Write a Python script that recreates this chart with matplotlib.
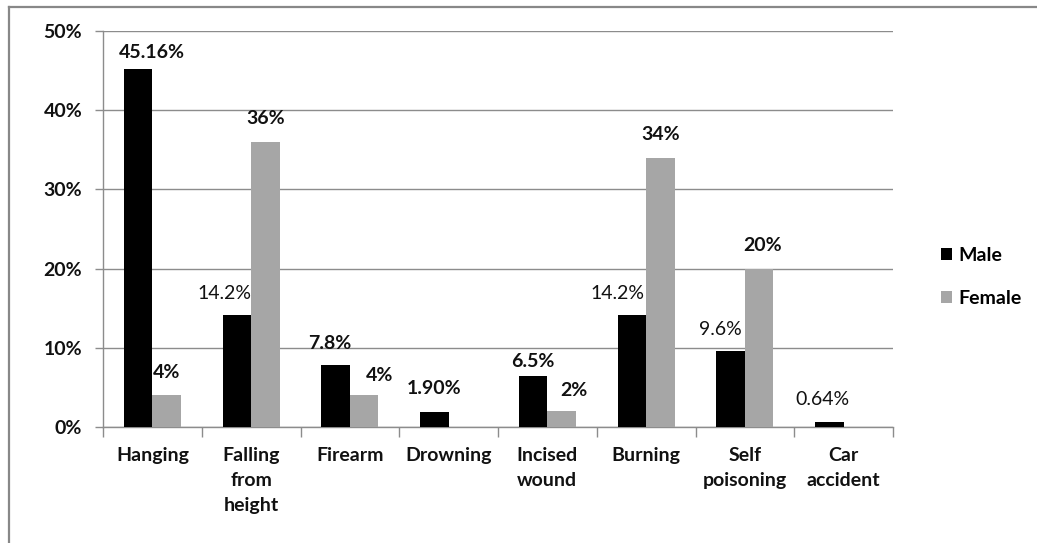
import matplotlib
matplotlib.use("Agg")
import matplotlib.pyplot as plt
from matplotlib.lines import Line2D
from matplotlib.patches import Patch
import numpy as np

# Data
categories = ["Hanging", "Falling\nfrom\nheight", "Firearm", "Drowning",
              "Incised\nwound", "Burning", "Self\npoisoning", "Car\naccident"]
male = [45.16, 14.2, 7.8, 1.90, 6.5, 14.2, 9.6, 0.64]
female = [4, 36, 4, 0, 2, 34, 20, 0]
male_labels = ["45.16%", "14.2%", "7.8%", "1.90%", "6.5%", "14.2%", "9.6%", "0.64%"]
female_labels = ["4%", "36%", "4%", "", "2%", "34%", "20%", ""]
y_ticks = [0, 10, 20, 30, 40, 50]
series_names = ["Male", "Female"]

# Label placement (pixel offsets from the top centre of each bar) and weights
male_offsets = [(14, 17), (-12, 21), (-6, 22), (0, 23), (0, 14), (-14, 21), (-10, 21), (-7, 22)]
female_offsets = [(0, 23), (0, 23), (15, 20), (0, 0), (12, 21), (0, 23), (3, 23), (0, 0)]
male_weights = ["bold", "normal", "bold", "bold", "bold", "normal", "normal", "normal"]

FONT = "Lato"
GRAY = "#8c8c8c"
MALE_C = "#000000"
FEMALE_C = "#a6a6a6"
TXT = "#111111"
FS = 14

W, H = 1037, 543
fig = plt.figure(figsize=(W / 100, H / 100), dpi=100)
ax = fig.add_axes([103 / W, 116 / H, 790 / W, 396 / H])

x = np.arange(len(categories))
bw = 0.288
ax.bar(x - bw / 2, male, bw, color=MALE_C, zorder=3)
ax.bar(x + bw / 2, female, bw, color=FEMALE_C, zorder=3)

for i in range(len(categories)):
    dx, dy = male_offsets[i]
    ax.annotate(male_labels[i], xy=(x[i] - bw / 2, male[i]), xytext=(dx, dy),
                textcoords="offset pixels", ha="center", va="center",
                fontsize=FS, fontweight=male_weights[i], family=FONT, color=TXT)
    if female_labels[i]:
        dx, dy = female_offsets[i]
        ax.annotate(female_labels[i], xy=(x[i] + bw / 2, female[i]), xytext=(dx, dy),
                    textcoords="offset pixels", ha="center", va="center",
                    fontsize=FS, fontweight="bold", family=FONT, color=TXT)

ax.set_xlim(-0.5, len(categories) - 0.5)
ax.set_ylim(0, 50)
ax.set_yticks(y_ticks)
ax.set_yticklabels([f"{v}%" for v in y_ticks], family=FONT, fontsize=FS,
                   fontweight="bold", color=TXT)
ax.tick_params(axis="y", length=6, width=1, color=GRAY, pad=9)

ax.set_xticks(x)
ax.set_xticklabels(categories, family=FONT, fontsize=FS, fontweight="bold",
                   color=TXT, linespacing=1.58, va="top")
ax.tick_params(axis="x", which="major", length=0, pad=14.5)
ax.set_xticks(np.arange(-0.5, len(categories)), minor=True)
ax.tick_params(axis="x", which="minor", length=7, width=1, color=GRAY)

ax.yaxis.grid(True, color=GRAY, lw=1, zorder=0)
ax.set_axisbelow(True)
for s in ["top", "right"]:
    ax.spines[s].set_visible(False)
for s in ["left", "bottom"]:
    ax.spines[s].set_color(GRAY)
    ax.spines[s].set_linewidth(1)

handles = [Patch(facecolor=MALE_C, edgecolor="none"), Patch(facecolor=FEMALE_C, edgecolor="none")]
leg = fig.legend(handles, series_names, loc="center left",
                 bbox_to_anchor=(923 / W, 1 - 277 / H), frameon=False,
                 handlelength=0.6, handleheight=0.6, handletextpad=0.3,
                 labelspacing=1.35, prop={"family": FONT, "size": FS, "weight": "bold"})

# Outer chart frame
fig.add_artist(Line2D([8.5 / W, 1], [1 - 7 / H, 1 - 7 / H], transform=fig.transFigure,
                      color="#888888", lw=1.6))
fig.add_artist(Line2D([8.5 / W, 8.5 / W], [0, 1 - 7 / H], transform=fig.transFigure,
                      color="#888888", lw=1.6))

fig.savefig("out.png", dpi=100)
